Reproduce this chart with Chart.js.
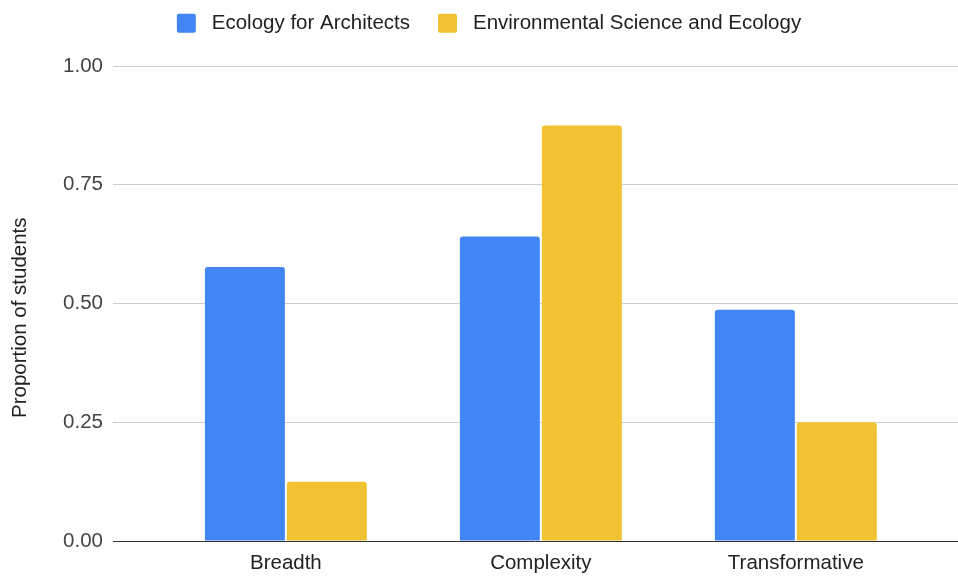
<!DOCTYPE html>
<html>
<head>
<meta charset="utf-8">
<script src="https://cdn.jsdelivr.net/npm/chart.js@4/dist/chart.umd.min.js"></script>
<style>
  html, body { margin: 0; padding: 0; background: #ffffff; }
  canvas { display: block; }
</style>
</head>
<body>
<canvas id="chart" width="958" height="576"></canvas>
<script>
// Share of students whose answers showed each quality, by course
const categories = ['Breadth', 'Complexity', 'Transformative'];
const seriesLabels = ['Ecology for Architects', 'Environmental Science and Ecology'];
const ecologyForArchitects = [0.577, 0.641, 0.487];
const envScienceEcology = [0.125, 0.875, 0.25];
const yTickValues = [0, 0.25, 0.5, 0.75, 1];
const yAxisTitle = 'Proportion of students';

const FONT = "'Liberation Sans', Arial, sans-serif";
const FONT_SIZE = 20.5;
const BLUE = '#4285F4';
const YELLOW = '#F1C232';

// Categories sit at integer slots on a linear axis so the side margins can be uneven
const X_MIN = -0.678;
const X_MAX = 2.636;

// Fixed band for the legend above the plot, nudged slightly right of centre
const legendBand = {
  id: 'legendBand',
  beforeInit(chart) {
    const legend = chart.legend;
    if (!legend) return;
    const fit = legend.fit;
    legend.fit = function () {
      fit.call(this);
      this.height = 66;
    };
  },
  afterLayout(chart) {
    const legend = chart.legend;
    if (legend) {
      legend.top = -15;
      legend.left += 10;
      legend.right += 10;
    }
  }
};

const defaultLegendLabels = Chart.defaults.plugins.legend.labels.generateLabels;

new Chart(document.getElementById('chart'), {
  type: 'bar',
  data: {
    datasets: [
      {
        label: seriesLabels[0],
        data: ecologyForArchitects.map((y, i) => ({ x: i, y })),
        backgroundColor: BLUE,
        borderRadius: { topLeft: 3, topRight: 3 },
        borderSkipped: 'start'
      },
      {
        label: seriesLabels[1],
        data: envScienceEcology.map((y, i) => ({ x: i, y })),
        backgroundColor: YELLOW,
        borderRadius: { topLeft: 3, topRight: 3 },
        borderSkipped: 'start'
      }
    ]
  },
  plugins: [legendBand],
  options: {
    responsive: false,
    animation: false,
    devicePixelRatio: 1,
    categoryPercentage: 0.643,
    barPercentage: 0.9756,
    layout: { padding: { left: 0, right: 0, top: 0, bottom: 0 } },
    plugins: {
      legend: {
        position: 'top',
        labels: {
          boxWidth: 19,
          boxHeight: 19,
          padding: 28,
          useBorderRadius: true,
          borderRadius: 2,
          color: '#222222',
          font: { family: FONT, size: FONT_SIZE },
          // a leading space widens the gap between swatch and text
          generateLabels: (chart) =>
            defaultLegendLabels(chart).map((item) => ({ ...item, text: ' ' + item.text }))
        }
      },
      tooltip: { enabled: false }
    },
    scales: {
      x: {
        type: 'linear',
        offset: false,
        min: X_MIN,
        max: X_MAX,
        afterBuildTicks: (scale) => { scale.ticks = categories.map((_, i) => ({ value: i })); },
        afterFit: (scale) => { scale.height = 35; },
        ticks: {
          autoSkip: false,
          maxRotation: 0,
          padding: 10,
          color: '#222222',
          font: { family: FONT, size: FONT_SIZE },
          callback: (v) => categories[v]
        },
        grid: { display: false, drawTicks: false },
        border: { display: false }
      },
      y: {
        min: 0,
        max: 1,
        afterBuildTicks: (scale) => { scale.ticks = yTickValues.map((v) => ({ value: v })); },
        afterFit: (scale) => { scale.width = 113; },
        ticks: {
          padding: 10,
          color: '#444444',
          font: { family: FONT, size: FONT_SIZE },
          callback: (v) => Number(v).toFixed(2)
        },
        grid: {
          drawTicks: false,
          lineWidth: 1,
          color: (ctx) => (ctx.tick && ctx.tick.value === 0 ? '#333333' : '#cccccc')
        },
        border: { display: false },
        title: {
          display: true,
          // trailing spaces nudge the rotated title a little below the plot's middle
          text: yAxisTitle.padEnd(yAxisTitle.length + 5, ' '),
          color: '#222222',
          font: { family: FONT, size: FONT_SIZE },
          padding: { top: 8, bottom: 0 }
        }
      }
    }
  }
});
</script>
</body>
</html>
